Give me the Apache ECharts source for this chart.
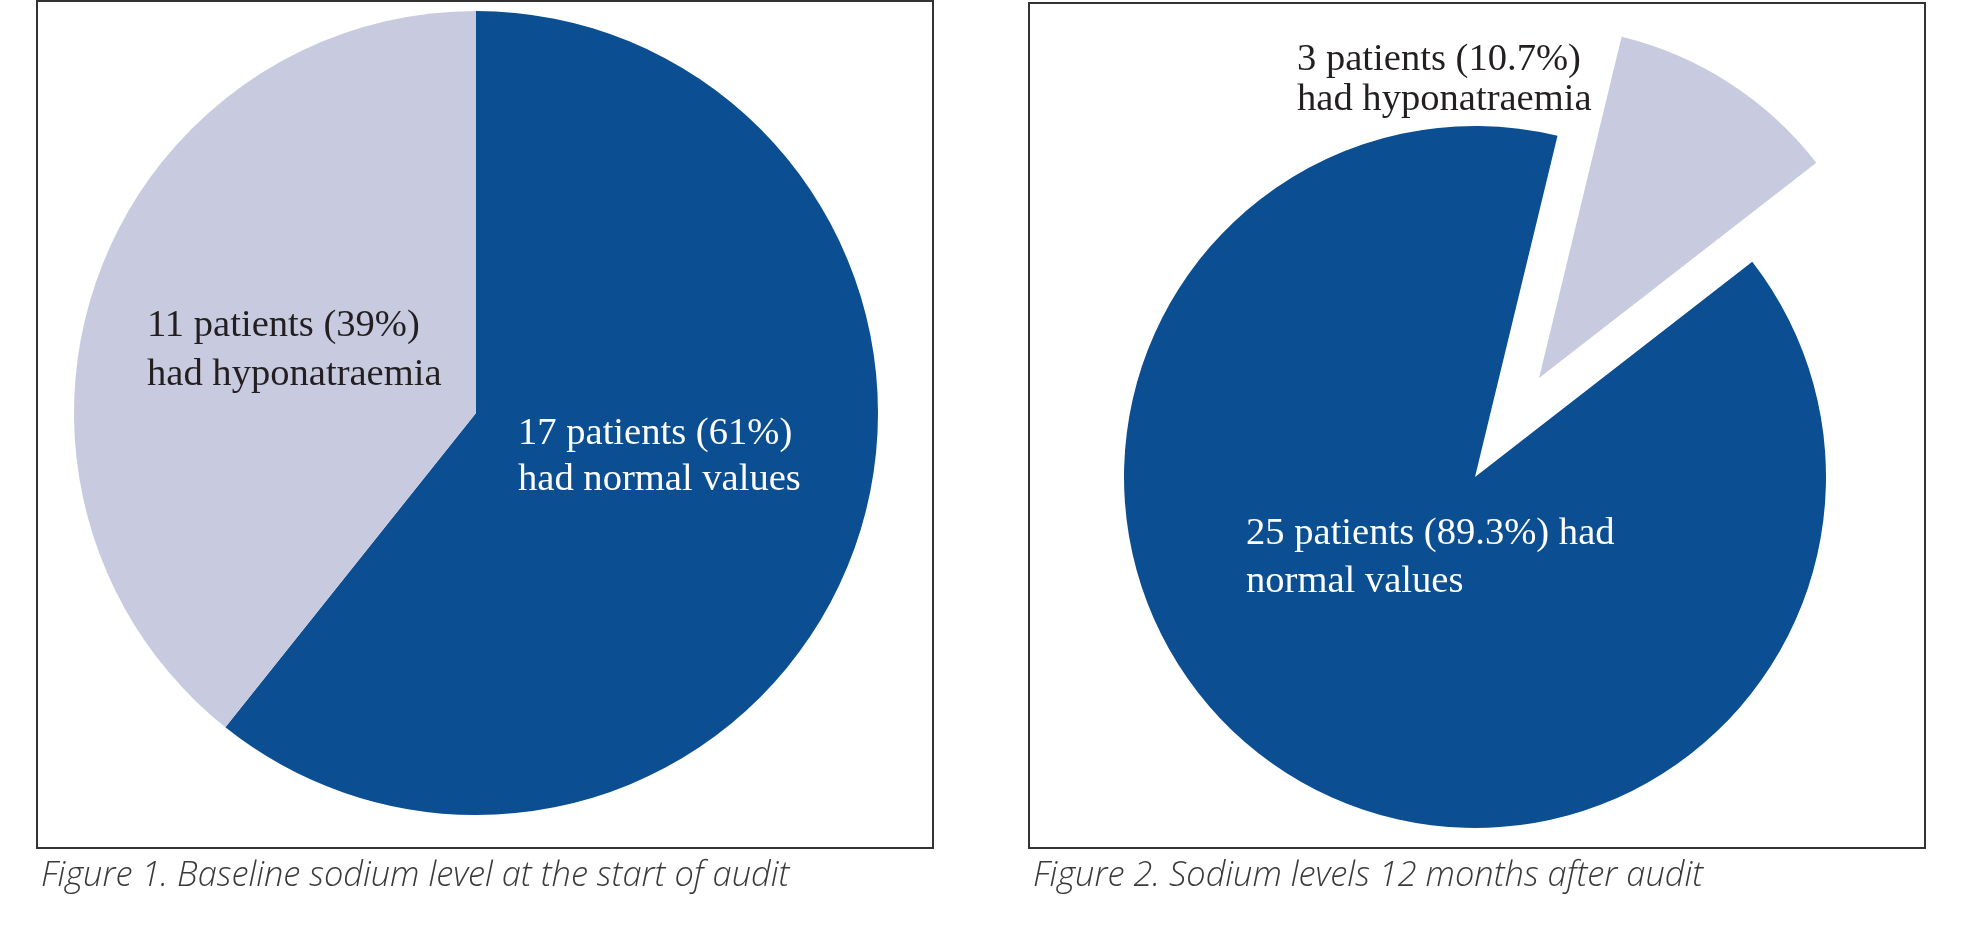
<!DOCTYPE html>
<html>
<head>
<meta charset="utf-8">
<script src="https://cdn.jsdelivr.net/npm/echarts@6/dist/echarts.min.js"></script>
<style>
html,body{margin:0;padding:0;background:#fff;}
#c{width:1965px;height:951px;}
</style>
</head>
<body>
<div id="c"></div>
<script>
// ---- data ----
const fig1Categories = ['Normal values', 'Hyponatraemia'];
const fig1Values = [17, 11];
const fig1Labels = ['17 patients (61%)\nhad normal values', '11 patients (39%)\nhad hyponatraemia'];

const fig2Categories = ['Hyponatraemia', 'Normal values'];
const fig2Values = [3, 25];
const fig2Labels = ['3 patients (10.7%)\nhad hyponatraemia', '25 patients (89.3%) had\nnormal values'];

const captions = ['Figure 1. Baseline sodium level at the start of audit', 'Figure 2. Sodium levels 12 months after audit'];

const DARK = '#0b4f92';
const LIGHT = '#c8cbe0';

const chart = echarts.init(document.getElementById('c'), null, {renderer: 'canvas'});

const serif = '"Liberation Serif", "DejaVu Serif", serif';
const labelStyle = (txt, x, y, color, lh) => ({
  type: 'text', left: x, top: y, silent: true, z: 100,
  style: {text: txt, font: '38.6px ' + serif, fill: color, lineHeight: lh, textAlign: 'left'}
});
const captionStyle = (txt, x) => ({
  type: 'text', left: x, top: 859, silent: true, z: 100,
  style: {text: txt, font: 'italic 300 34.4px "Open Sans"', fill: '#3a3a3a'}
});

chart.setOption({
  animation: false,
  backgroundColor: '#fff',
  series: [
    {
      type: 'pie', name: 'Figure 1',
      center: [476, 413], radius: [0, 402],
      startAngle: 90, clockwise: true,
      label: {show: false}, labelLine: {show: false},
      emphasis: {disabled: true},
      silent: true,
      data: fig1Categories.map((c, i) => ({name: c, value: fig1Values[i], itemStyle: {color: i === 0 ? DARK : LIGHT}}))
    },
    {
      type: 'pie', name: 'Figure 2',
      center: [1475, 477], radius: [0, 351],
      startAngle: 76.4, clockwise: true,
      selectedMode: 'single', selectedOffset: 118,
      label: {show: false}, labelLine: {show: false},
      emphasis: {disabled: true},
      data: fig2Categories.map((c, i) => ({name: c, value: fig2Values[i], selected: i === 0, itemStyle: {color: i === 0 ? LIGHT : DARK}}))
    }
  ],
  graphic: [
    {type: 'rect', silent: true, z: 100, shape: {x: 37, y: 1, width: 896, height: 847}, style: {fill: 'none', stroke: '#333', lineWidth: 2}},
    {type: 'rect', silent: true, z: 100, shape: {x: 1029, y: 3, width: 896, height: 845}, style: {fill: 'none', stroke: '#333', lineWidth: 2}},
    labelStyle(fig1Labels[1], 147, 301, '#231f20', 49),
    labelStyle(fig1Labels[0], 518, 411, '#ffffff', 46),
    labelStyle(fig2Labels[0], 1297, 40, '#231f20', 40),
    labelStyle(fig2Labels[1], 1246, 510, '#ffffff', 48),
    captionStyle(captions[0], 41),
    captionStyle(captions[1], 1033)
  ]
});
</script>
</body>
</html>
